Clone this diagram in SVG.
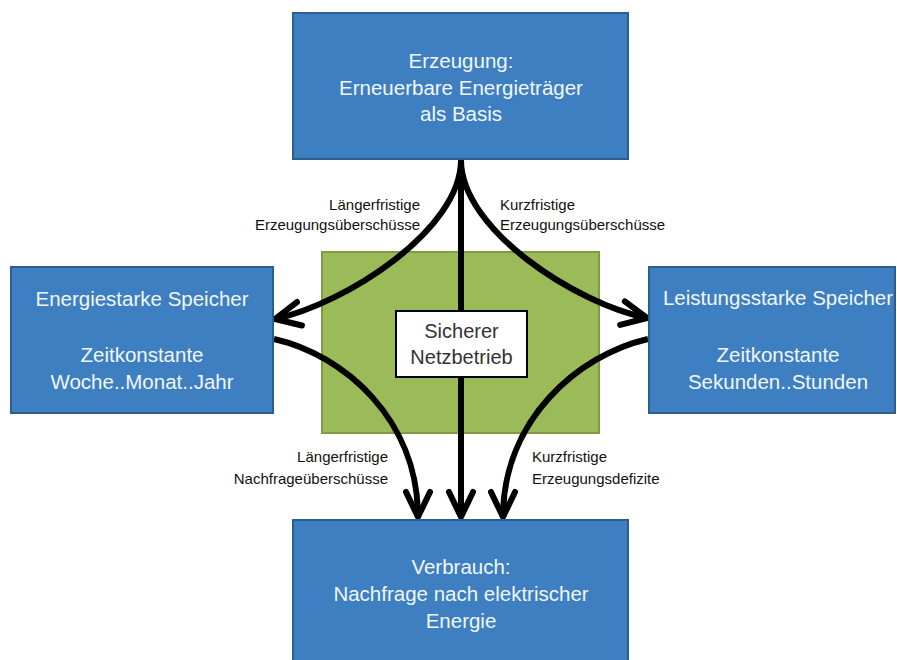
<svg xmlns="http://www.w3.org/2000/svg" width="897" height="660" viewBox="0 0 897 660">
<style>
.box{fill:#3d7fc1;stroke:#2c5d8f;stroke-width:2}
.bt{font-family:"Liberation Sans",Arial,sans-serif;font-size:20.5px;fill:#f2f6fb;text-anchor:middle}
.lbl{font-family:"Liberation Sans",Arial,sans-serif;font-size:15px;fill:#111}
.con{fill:none;stroke:#000;stroke-width:6;marker-end:url(#ah)}
</style>
<defs>
<marker id="ah" markerUnits="userSpaceOnUse" orient="auto" markerWidth="40" markerHeight="40" viewBox="-30 -20 40 40" refX="0" refY="0">
<path d="M-25,-12 L0,0 L-25,12" fill="none" stroke="#000" stroke-width="6" stroke-linecap="round" stroke-linejoin="round"/>
</marker>
</defs>
<rect width="897" height="660" fill="#fff"/>
<g id="netz-bg">
<rect x="322" y="252" width="277" height="181" fill="#9bbb59" stroke="#7f9c42" stroke-width="2"/>
</g>
<g id="connectors">
<path class="con" d="M461,160 C461,230 345,304 275,319"/>
<path class="con" d="M461,160 C461,230 577,304 647,318"/>
<path class="con" d="M461,160 L461,517"/>
<path class="con" d="M274,339 C345,355 418,420 418,517"/>
<path class="con" d="M648,339 C578,355 503,420 503,517"/>
</g>
<g id="erzeugung">
<rect class="box" x="293" y="13" width="335" height="146"/>
<text class="bt" x="461" y="68">Erzeugung:</text>
<text class="bt" x="461" y="95">Erneuerbare Energieträger</text>
<text class="bt" x="461" y="121">als Basis</text>
</g>
<g id="energiestarke">
<rect class="box" x="11" y="267" width="262" height="146"/>
<text class="bt" x="142" y="306">Energiestarke Speicher</text>
<text class="bt" x="142" y="362">Zeitkonstante</text>
<text class="bt" x="142" y="389">Woche..Monat..Jahr</text>
</g>
<g id="leistungsstarke">
<rect class="box" x="649" y="267" width="246" height="146"/>
<text class="bt" x="778" y="305">Leistungsstarke Speicher</text>
<text class="bt" x="778" y="362">Zeitkonstante</text>
<text class="bt" x="778" y="389">Sekunden..Stunden</text>
</g>
<g id="verbrauch">
<rect class="box" x="293" y="520" width="335" height="150"/>
<text class="bt" x="461" y="574">Verbrauch:</text>
<text class="bt" x="461" y="601">Nachfrage nach elektrischer</text>
<text class="bt" x="461" y="628">Energie</text>
</g>
<g id="netzbetrieb">
<rect x="396" y="311" width="131" height="66" fill="#fff" stroke="#000" stroke-width="2"/>
<text x="461.5" y="338" font-family="Liberation Sans, Arial, sans-serif" font-size="20" fill="#333" text-anchor="middle">Sicherer</text>
<text x="461.5" y="364" font-family="Liberation Sans, Arial, sans-serif" font-size="20" fill="#333" text-anchor="middle">Netzbetrieb</text>
</g>
<g id="labels">
<text class="lbl" x="420" y="210" text-anchor="end">Längerfristige</text>
<text class="lbl" x="420" y="230" text-anchor="end">Erzeugungsüberschüsse</text>
<text class="lbl" x="500" y="210">Kurzfristige</text>
<text class="lbl" x="500" y="230">Erzeugungsüberschüsse</text>
<text class="lbl" x="388" y="462" text-anchor="end">Längerfristige</text>
<text class="lbl" x="388" y="484" text-anchor="end">Nachfrageüberschüsse</text>
<text class="lbl" x="532" y="462">Kurzfristige</text>
<text class="lbl" x="532" y="484">Erzeugungsdefizite</text>
</g>
</svg>
